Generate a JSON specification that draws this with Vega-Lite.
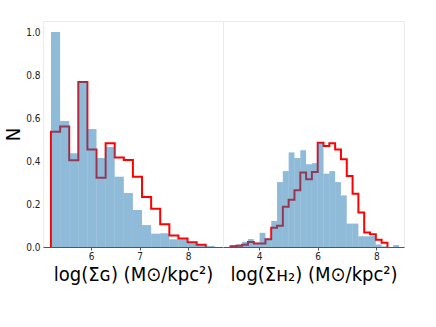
{
  "$schema": "https://vega.github.io/schema/vega-lite/v6.json",
  "background": "white",
  "padding": {"left": 3, "top": 20, "right": 5, "bottom": 5},
  "spacing": 0,
  "bounds": "flush",
  "config": {
    "view": {"stroke": "#ebebeb", "strokeWidth": 1},
    "font": "DejaVu Sans Condensed, Liberation Sans Narrow, DejaVu Sans",
    "axis": {
      "grid": false,
      "labelFont": "DejaVu Sans Condensed, Liberation Sans Narrow, DejaVu Sans",
      "titleFont": "DejaVu Sans Condensed, Liberation Sans Narrow, DejaVu Sans",
      "labelFontSize": 10,
      "labelColor": "#222222",
      "titleColor": "#000000",
      "titleFontWeight": "normal",
      "domainColor": "#555555",
      "tickColor": "#555555"
    }
  },
  "datasets": {
    "leftBars": [
      {"x0": 5.175, "x1": 5.363, "n": 1.0},
      {"x0": 5.363, "x1": 5.550, "n": 0.586},
      {"x0": 5.550, "x1": 5.738, "n": 0.436},
      {"x0": 5.738, "x1": 5.925, "n": 0.769},
      {"x0": 5.925, "x1": 6.113, "n": 0.549},
      {"x0": 6.113, "x1": 6.301, "n": 0.414},
      {"x0": 6.301, "x1": 6.488, "n": 0.465},
      {"x0": 6.488, "x1": 6.676, "n": 0.327},
      {"x0": 6.676, "x1": 6.863, "n": 0.251},
      {"x0": 6.863, "x1": 7.051, "n": 0.172},
      {"x0": 7.051, "x1": 7.239, "n": 0.102},
      {"x0": 7.239, "x1": 7.426, "n": 0.062},
      {"x0": 7.426, "x1": 7.614, "n": 0.064},
      {"x0": 7.614, "x1": 7.801, "n": 0.036},
      {"x0": 7.801, "x1": 7.989, "n": 0.036},
      {"x0": 7.989, "x1": 8.177, "n": 0.02},
      {"x0": 8.177, "x1": 8.364, "n": 0.01},
      {"x0": 8.364, "x1": 8.552, "n": 0.005}
    ],
    "leftStep": [
      {"k": 0, "x": 5.175, "n": 0},
      {"k": 1, "x": 5.175, "n": 0.536},
      {"k": 2, "x": 5.363, "n": 0.56},
      {"k": 3, "x": 5.550, "n": 0.403},
      {"k": 4, "x": 5.738, "n": 0.767},
      {"k": 5, "x": 5.925, "n": 0.453},
      {"k": 6, "x": 6.113, "n": 0.322},
      {"k": 7, "x": 6.301, "n": 0.482},
      {"k": 8, "x": 6.488, "n": 0.416},
      {"k": 9, "x": 6.676, "n": 0.405},
      {"k": 10, "x": 6.863, "n": 0.327},
      {"k": 11, "x": 7.051, "n": 0.233},
      {"k": 12, "x": 7.239, "n": 0.178},
      {"k": 13, "x": 7.426, "n": 0.106},
      {"k": 14, "x": 7.614, "n": 0.054},
      {"k": 15, "x": 7.801, "n": 0.039},
      {"k": 16, "x": 7.989, "n": 0.022},
      {"k": 17, "x": 8.177, "n": 0.011},
      {"k": 18, "x": 8.364, "n": 0.011},
      {"k": 19, "x": 8.364, "n": 0}
    ],
    "rightBars": [
      {"x0": 3.030, "x1": 3.228, "n": 0.008},
      {"x0": 3.228, "x1": 3.426, "n": 0.012},
      {"x0": 3.426, "x1": 3.624, "n": 0.024},
      {"x0": 3.624, "x1": 3.822, "n": 0.037},
      {"x0": 3.822, "x1": 4.020, "n": 0.02},
      {"x0": 4.020, "x1": 4.218, "n": 0.066},
      {"x0": 4.218, "x1": 4.416, "n": 0.04},
      {"x0": 4.416, "x1": 4.614, "n": 0.121},
      {"x0": 4.614, "x1": 4.812, "n": 0.302},
      {"x0": 4.812, "x1": 5.010, "n": 0.353},
      {"x0": 5.010, "x1": 5.208, "n": 0.44},
      {"x0": 5.208, "x1": 5.406, "n": 0.414},
      {"x0": 5.406, "x1": 5.604, "n": 0.45},
      {"x0": 5.604, "x1": 5.802, "n": 0.385},
      {"x0": 5.802, "x1": 6.000, "n": 0.39},
      {"x0": 6.000, "x1": 6.198, "n": 0.485},
      {"x0": 6.198, "x1": 6.396, "n": 0.341},
      {"x0": 6.396, "x1": 6.594, "n": 0.353},
      {"x0": 6.594, "x1": 6.792, "n": 0.302},
      {"x0": 6.792, "x1": 6.990, "n": 0.24},
      {"x0": 6.990, "x1": 7.188, "n": 0.109},
      {"x0": 7.188, "x1": 7.386, "n": 0.109},
      {"x0": 7.386, "x1": 7.584, "n": 0.05},
      {"x0": 7.584, "x1": 7.782, "n": 0.05},
      {"x0": 7.782, "x1": 7.980, "n": 0.051},
      {"x0": 7.980, "x1": 8.178, "n": 0.012},
      {"x0": 8.178, "x1": 8.376, "n": 0.003},
      {"x0": 8.376, "x1": 8.574, "n": 0},
      {"x0": 8.574, "x1": 8.772, "n": 0.009}
    ],
    "rightStep": [
      {"k": 0, "x": 3.030, "n": 0},
      {"k": 1, "x": 3.030, "n": 0.003},
      {"k": 2, "x": 3.228, "n": 0.006},
      {"k": 3, "x": 3.426, "n": 0.011},
      {"k": 4, "x": 3.624, "n": 0.023},
      {"k": 5, "x": 3.822, "n": 0.016},
      {"k": 6, "x": 4.020, "n": 0.016},
      {"k": 7, "x": 4.218, "n": 0.036},
      {"k": 8, "x": 4.416, "n": 0.09},
      {"k": 9, "x": 4.614, "n": 0.099},
      {"k": 10, "x": 4.812, "n": 0.187},
      {"k": 11, "x": 5.010, "n": 0.22},
      {"k": 12, "x": 5.208, "n": 0.264},
      {"k": 13, "x": 5.406, "n": 0.346},
      {"k": 14, "x": 5.604, "n": 0.315},
      {"k": 15, "x": 5.802, "n": 0.349},
      {"k": 16, "x": 6.000, "n": 0.485},
      {"k": 17, "x": 6.198, "n": 0.47},
      {"k": 18, "x": 6.396, "n": 0.482},
      {"k": 19, "x": 6.594, "n": 0.454},
      {"k": 20, "x": 6.792, "n": 0.408},
      {"k": 21, "x": 6.990, "n": 0.33},
      {"k": 22, "x": 7.188, "n": 0.248},
      {"k": 23, "x": 7.386, "n": 0.16},
      {"k": 24, "x": 7.584, "n": 0.067},
      {"k": 25, "x": 7.782, "n": 0.059},
      {"k": 26, "x": 7.980, "n": 0.034},
      {"k": 27, "x": 8.178, "n": 0.02},
      {"k": 28, "x": 8.376, "n": 0.02},
      {"k": 29, "x": 8.376, "n": 0}
    ]
  },
  "hconcat": [
    {
      "width": 180,
      "height": 226,
      "layer": [
        {
          "data": {"name": "leftStep"},
          "mark": {"type": "line", "interpolate": "step-after", "color": "#ff0000", "strokeWidth": 2, "clip": true},
          "encoding": {
            "x": {"field": "x", "type": "quantitative",
                  "scale": {"domain": [5.01, 8.72], "nice": false, "zero": false},
                  "axis": {"values": [6, 7, 8], "format": "d", "tickSize": 3, "labelPadding": 1,
                           "title": "log(Σɢ) (M⊙/kpc²)", "titleFontSize": 20, "titlePadding": 3}},
            "y": {"field": "n", "type": "quantitative",
                  "scale": {"domain": [0, 1.0512], "nice": false},
                  "axis": {"values": [0, 0.2, 0.4, 0.6, 0.8, 1.0], "format": ".1f", "ticks": false,
                           "domain": false, "labelPadding": 3, "title": "N", "titleFontSize": 20,
                           "titlePadding": 2}},
            "order": {"field": "k", "type": "quantitative"}
          }
        },
        {
          "data": {"name": "leftBars"},
          "mark": {"type": "bar", "color": "#1f77b4", "opacity": 0.5},
          "encoding": {
            "x": {"field": "x0", "type": "quantitative"},
            "x2": {"field": "x1"},
            "y": {"field": "n", "type": "quantitative"},
            "y2": {"datum": 0}
          }
        },
        {
          "mark": {"type": "rule", "color": "#555555", "strokeWidth": 1},
          "encoding": {"y": {"datum": 1.0512, "type": "quantitative"}}
        }
      ]
    },
    {
      "width": 181,
      "height": 226,
      "layer": [
        {
          "data": {"name": "rightStep"},
          "mark": {"type": "line", "interpolate": "step-after", "color": "#ff0000", "strokeWidth": 2, "clip": true},
          "encoding": {
            "x": {"field": "x", "type": "quantitative",
                  "scale": {"domain": [2.773, 8.94], "nice": false, "zero": false},
                  "axis": {"values": [4, 6, 8], "format": "d", "tickSize": 3, "labelPadding": 1,
                           "title": "log(Σʜ₂) (M⊙/kpc²)", "titleFontSize": 20, "titlePadding": 3}},
            "y": {"field": "n", "type": "quantitative",
                  "scale": {"domain": [0, 1.0512], "nice": false},
                  "axis": null},
            "order": {"field": "k", "type": "quantitative"}
          }
        },
        {
          "data": {"name": "rightBars"},
          "mark": {"type": "bar", "color": "#1f77b4", "opacity": 0.5},
          "encoding": {
            "x": {"field": "x0", "type": "quantitative"},
            "x2": {"field": "x1"},
            "y": {"field": "n", "type": "quantitative"},
            "y2": {"datum": 0}
          }
        },
        {
          "mark": {"type": "rule", "color": "#555555", "strokeWidth": 1},
          "encoding": {"y": {"datum": 1.0512, "type": "quantitative"}}
        }
      ]
    }
  ]
}
